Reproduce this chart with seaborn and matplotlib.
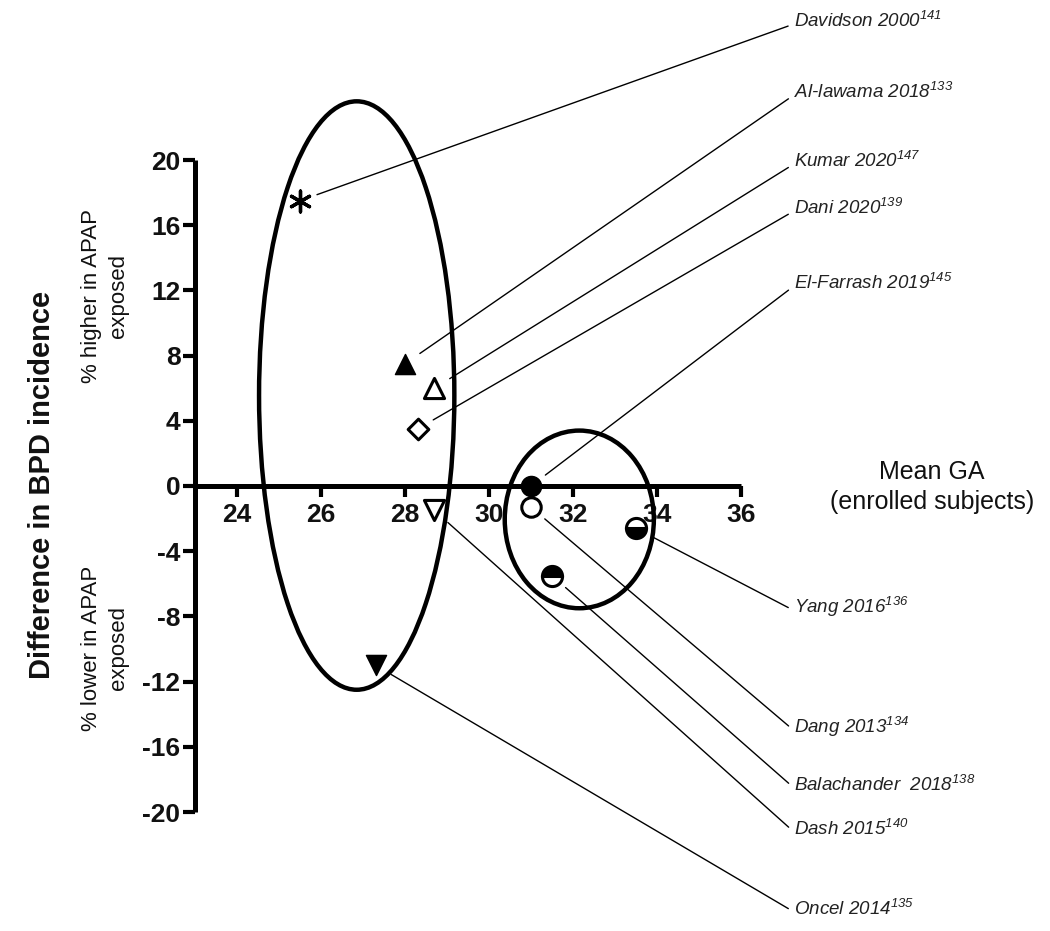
import numpy as np
import pandas as pd
import matplotlib
matplotlib.use("Agg")
import matplotlib.pyplot as plt
from matplotlib.patches import Ellipse
import seaborn as sns

# ---------------- data ----------------
studies = ["Davidson 2000", "Al-lawama 2018", "Kumar 2020", "Dani 2020",
           "El-Farrash 2019", "Yang 2016", "Dang 2013", "Balachander  2018",
           "Dash 2015", "Oncel 2014"]
refs = ["141", "133", "147", "139", "145", "136", "134", "138", "140", "135"]
mean_ga = [25.5, 28.0, 28.7, 28.3, 31.0, 33.5, 31.0, 31.5, 28.7, 27.3]
bpd_diff = [17.5, 7.5, 6.0, 3.5, 0.0, -2.6, -1.3, -5.5, -1.5, -11.0]

x_ticks = [24, 26, 28, 30, 32, 34, 36]
y_ticks = [20, 16, 12, 8, 4, 0, -4, -8, -12, -16, -20]

# cluster ellipses (center x, center y, width, height)
ellipse_left = (26.85, 5.55, 4.65, 36.1)
ellipse_right = (32.15, -2.05, 3.55, 10.9)

# ---------------- style per study ----------------
# (marker, facecolor, size, linewidth, fillstyle)
styles = [
    ((6, 2, 0), "black", 15, 2.4, None),
    ("^", "black", 14.5, 1.0, None),
    ("^", "white", 14.5, 2.2, None),
    ("D", "white", 10.5, 2.2, None),
    ("o", "black", 14.5, 1.0, None),
    ("o", "half", 14.5, 2.2, "bottom"),
    ("o", "white", 14, 2.2, None),
    ("o", "half", 14.5, 2.2, "top"),
    ("v", "white", 14.5, 2.2, None),
    ("v", "black", 14.5, 1.0, None),
]
# label baselines (pixels from top) and left edge
label_base_px = [27, 98, 167, 214, 289, 613, 733, 791, 835, 915]
label_left_px = 794

W, H = 1050, 931

sns.set_theme(style="white")
plt.rcParams["font.family"] = ["Liberation Sans", "DejaVu Sans"]
plt.rcParams["axes.unicode_minus"] = False
plt.rcParams["mathtext.fontset"] = "custom"
plt.rcParams["mathtext.rm"] = "Liberation Sans:italic"
plt.rcParams["mathtext.it"] = "Liberation Sans:italic"

fig = plt.figure(figsize=(W / 100, H / 100), dpi=100)
ax = fig.add_axes([195 / W, 1 - 812 / H, 546 / W, 652 / H])
ax.set_facecolor("none")

df = pd.DataFrame({"study": studies, "ga": mean_ga, "diff": bpd_diff})

for i, row in df.iterrows():
    marker, face, ms, lw, fs = styles[i]
    if face == "half":
        ax.plot([row["ga"]], [row["diff"]], marker=marker, ms=ms,
                fillstyle=fs, markerfacecolor="black",
                markerfacecoloralt="white", markeredgecolor="black",
                mew=lw, linestyle="none", zorder=6, clip_on=False)
    elif isinstance(marker, tuple):
        sns.scatterplot(x=[row["ga"]], y=[row["diff"]], marker=marker,
                        s=ms ** 2, color="black", linewidth=lw, ax=ax,
                        zorder=6, clip_on=False, legend=False)
    else:
        sns.scatterplot(x=[row["ga"]], y=[row["diff"]], marker=marker,
                        s=ms ** 2, facecolor=face, edgecolor="black",
                        linewidth=lw, ax=ax, zorder=6, clip_on=False,
                        legend=False)

# ellipses
for (cx, cy, ew, eh) in (ellipse_left, ellipse_right):
    ax.add_patch(Ellipse((cx, cy), ew, eh, fill=False, lw=3.2,
                         edgecolor="black", clip_on=False, zorder=4))

# labels with leader lines
for i in range(len(studies)):
    txt = f"{studies[i]}$^{{{refs[i]}}}$"
    ax.annotate(txt, xy=(mean_ga[i], bpd_diff[i]), xycoords="data",
                xytext=(label_left_px / W, 1 - label_base_px[i] / H),
                textcoords="figure fraction", ha="left", va="baseline",
                fontsize=13.5, fontstyle="italic", color="#222222",
                annotation_clip=False,
                arrowprops=dict(arrowstyle="-", lw=1.0, color="black",
                                shrinkA=2, shrinkB=13, relpos=(0, 0.35)))

# axes formatting
ax.set_xlim(23, 36)
ax.set_ylim(-20, 20)
ax.set_xticks(x_ticks)
ax.set_yticks(y_ticks)
ax.set_xticklabels([str(t) for t in x_ticks])
ax.set_yticklabels([str(t) for t in y_ticks])
ax.spines["top"].set_visible(False)
ax.spines["right"].set_visible(False)
ax.spines["bottom"].set_position(("data", 0))
for s in ("left", "bottom"):
    ax.spines[s].set_linewidth(3.6)
    ax.spines[s].set_color("black")
    ax.spines[s].set_capstyle("butt")
ax.tick_params(axis="both", which="major", direction="out", width=3,
               color="black", labelsize=19, labelcolor="#111111")
ax.tick_params(axis="x", length=8, pad=4)
ax.tick_params(axis="y", length=8.5, pad=2)
ax.xaxis.set_ticks_position("bottom")
ax.yaxis.set_ticks_position("left")
for lbl in ax.get_xticklabels() + ax.get_yticklabels():
    lbl.set_fontweight("bold")
ax.set_xlabel("")
ax.set_ylabel("")
ax.grid(False)

# side texts
fig.text(42 / W, 1 - 485 / H, "Difference in BPD incidence", rotation=90,
         ha="center", va="center", fontsize=21, fontweight="bold",
         color="#111111")
fig.text(105 / W, 1 - 296 / H, "% higher in APAP\nexposed", rotation=90,
         ha="center", va="center", fontsize=16, linespacing=1.35,
         multialignment="center", color="#111111")
fig.text(105 / W, 1 - 648 / H, "% lower in APAP\nexposed", rotation=90,
         ha="center", va="center", fontsize=16, linespacing=1.35,
         multialignment="center", color="#111111")
fig.text(932 / W, 1 - 487 / H, "Mean GA\n(enrolled subjects)", ha="center",
         va="center", fontsize=18, linespacing=1.35, multialignment="center",
         color="#111111")

fig.savefig("out.png", dpi=100)
